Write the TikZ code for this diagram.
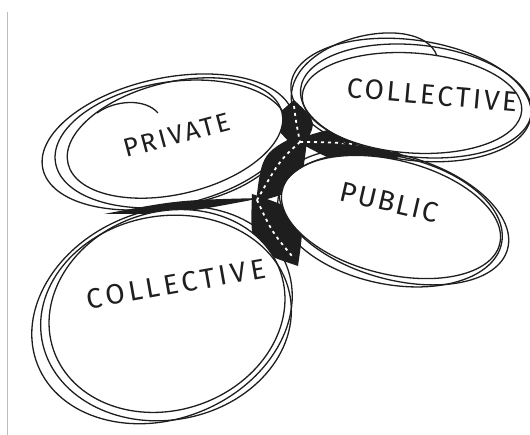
\documentclass[tikz,border=0pt]{standalone}
\usepackage{fontspec}
\setmainfont{Fira Sans}
\usepackage{tikz}
\usepackage{xcolor}
\definecolor{pen}{HTML}{1E1E1E}
\definecolor{edge}{HTML}{BDBDBD}
\tikzset{
  stroke/.style={draw=pen,line width=1.3pt},
  blank/.style={fill=white,draw=none},
  mesh/.style={fill=pen,draw=none},
  gaps/.style={draw=white,line width=1.8pt,dash pattern=on 3pt off 4pt},
  word/.style={text=pen,inner sep=0pt}
}
\newcommand{\hand}[2]{\fontsize{#1}{#1}\selectfont\addfontfeature{LetterSpace=#2}}

\begin{document}
\begin{tikzpicture}[x=1pt,y=-1pt]
  \useasboundingbox (0,0) rectangle (530,435);
  \draw[edge,line width=0.6pt] (7,12) -- (7,435);

  % hatched bands where the blobs touch
  \coordinate (hub) at (300,142);
  \coordinate (mid) at (257,200);
  \fill[mesh] (294,100) .. controls (268,122) .. (300,152) .. controls (318,122) .. cycle;
  \fill[mesh] (294,140) .. controls (350,122) .. (404,156) .. controls (350,170) .. cycle;
  \fill[mesh] (308,130) .. controls (262,152) .. (256,202) .. controls (302,190) .. cycle;
  \fill[mesh] (252,194) .. controls (250,250) .. (298,266) .. controls (306,212) .. cycle;
  \fill[mesh] (104,214) .. controls (178,200) .. (262,198) .. controls (178,214) .. cycle;
  \draw[gaps] (294,106) .. controls (296,122) .. (hub);
  \draw[gaps] (hub) .. controls (340,142) and (370,144) .. (395,152);
  \draw[gaps] (hub) .. controls (280,160) .. (mid);
  \draw[gaps] (mid) .. controls (272,232) .. (292,256);

  % white insides
  \fill[blank] (175,138) ellipse [x radius=110,y radius=56,rotate=13.5];
  \fill[blank] (412,103) ellipse [x radius=110,y radius=50,rotate=-4];
  \fill[blank] (391,217) ellipse [x radius=112,y radius=57,rotate=-14];
  \fill[blank] (167,311) ellipse [x radius=120,y radius=99,rotate=19];

  % private
  \foreach \cx/\cy/\rx/\ry/\a in {175/138/110/56/13.5, 168/142/128/64/12, 172/144/118/62/9}
    \draw[stroke] (\cx,\cy) ellipse [x radius=\rx,y radius=\ry,rotate=\a];
  \draw[stroke] (97,113) .. controls (115,100) and (145,98) .. (158,113);

  % collective (top)
  \foreach \cx/\cy/\rx/\ry/\a in {412/103/110/50/-4, 411/100/121/60/-8, 416/101/116/56/-6}
    \draw[stroke] (\cx,\cy) ellipse [x radius=\rx,y radius=\ry,rotate=\a];
  \draw[stroke] (292,105) .. controls (280,40) and (420,8) .. (437,56);

  % public
  \foreach \cx/\cy/\rx/\ry/\a in {391/217/112/57/-14, 394/217/118/62/-16, 390/220/114/64/-12}
    \draw[stroke] (\cx,\cy) ellipse [x radius=\rx,y radius=\ry,rotate=\a];

  % collective (bottom)
  \foreach \cx/\cy/\rx/\ry/\a in {167/311/120/99/19, 162/315/134/104/22, 166/318/126/102/10}
    \draw[stroke] (\cx,\cy) ellipse [x radius=\rx,y radius=\ry,rotate=\a];

  \node[word,rotate=15,font=\hand{26}{10}] (private) at (177,135) {PRIVATE};
  \node[word,rotate=-5,font=\hand{28}{10}] (collTop) at (432,95) {COLLECTIVE};
  \node[word,rotate=-13,font=\hand{28}{7}] (public) at (389,202) {PUBLIC};
  \node[word,rotate=10,font=\hand{28}{14}] (collBot) at (176,284) {COLLECTIVE};
\end{tikzpicture}
\end{document}
